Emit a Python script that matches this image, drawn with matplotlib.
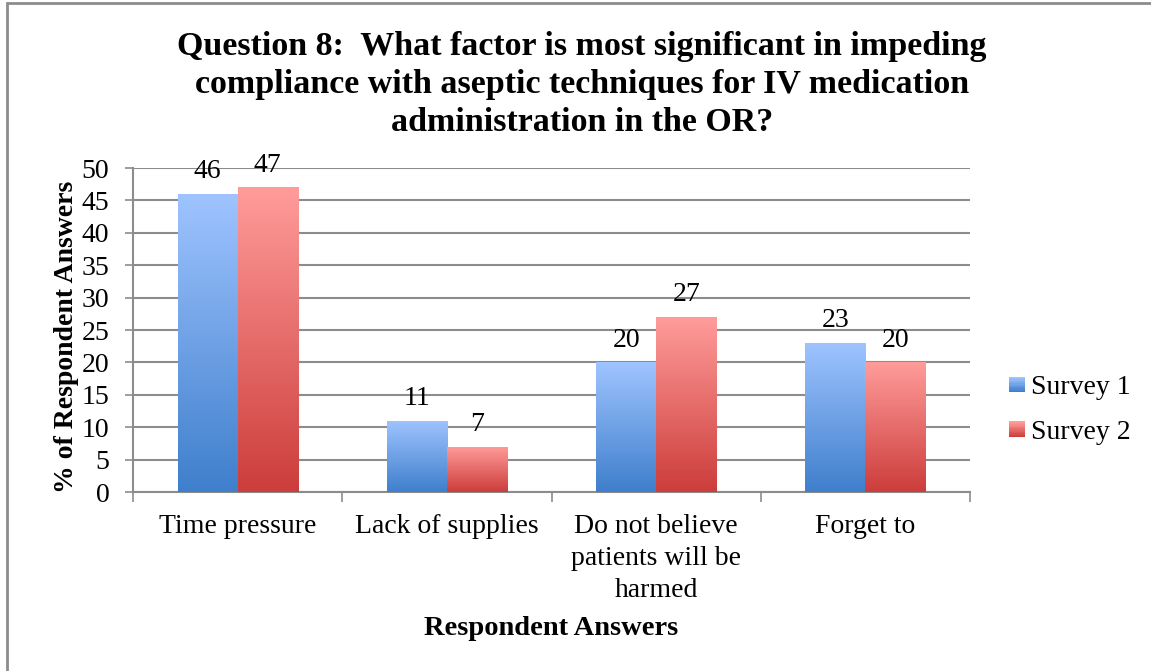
import numpy as np
import matplotlib.pyplot as plt
from matplotlib.patches import Rectangle
from matplotlib.colors import LinearSegmentedColormap
from matplotlib.legend_handler import HandlerBase

categories = ["Time pressure", "Lack of supplies",
              "Do not believe\npatients will be\nharmed", "Forget to"]
survey1 = [46, 11, 20, 23]
survey2 = [47, 7, 27, 20]
series_names = ["Survey 1", "Survey 2"]
yticks = list(range(0, 55, 5))

title = ("Question 8:  What factor is most significant in impeding\n"
         "compliance with aseptic techniques for IV medication\n"
         "administration in the OR?")

blue = LinearSegmentedColormap.from_list("b", ["#3f7fcc", "#9fc4ff"])
red = LinearSegmentedColormap.from_list("r", ["#cc3d3b", "#ff9c9a"])

plt.rcParams['font.family'] = ['Liberation Serif', 'DejaVu Serif']

fig = plt.figure(figsize=(11.51, 6.71), dpi=100)
ax = fig.add_axes([133 / 1151, 1 - 492 / 671, 837 / 1151, 324 / 671])

# outer chart border (only top and left edges visible in the original)
fig.patches.append(Rectangle((7 / 1151, -0.05), 1.1, 1 - 3.5 / 671 + 0.05,
                             transform=fig.transFigure, fill=False,
                             edgecolor="#8c8c8c", linewidth=2))

x = np.arange(len(categories))
w = 0.287
grad = np.linspace(0, 1, 256).reshape(-1, 1)

for vals, off, cmap in [(survey1, -w / 2, blue), (survey2, w / 2, red)]:
    bars = ax.bar(x + off, vals, w, color="none", zorder=3)
    for b, v in zip(bars, vals):
        x0, y0 = b.get_x(), b.get_y()
        im = ax.imshow(grad, cmap=cmap, origin="lower", aspect="auto",
                       extent=[x0, x0 + b.get_width(), y0, y0 + b.get_height()],
                       zorder=3)
        im.set_clip_path(b)
        ax.text(b.get_x() + b.get_width() / 2, v + 1.5, str(v),
                ha="center", va="bottom", fontsize=20)

ax.set_xlim(-0.5, len(categories) - 0.5)
ax.set_ylim(0, 50)
ax.set_yticks(yticks)
ax.tick_params(axis="y", labelsize=20, length=6, color="#8c8c8c", width=1.2, pad=11)
ax.set_xticks(x)
ax.set_xticklabels(categories, fontsize=20, linespacing=1.37)
ax.tick_params(axis="x", length=0, pad=16)
ax.set_xticks(np.arange(-0.5, len(categories)), minor=True)
ax.tick_params(axis="x", which="minor", length=7, color="#8c8c8c", width=1.2)
ax.grid(axis="y", color="#8c8c8c", linewidth=1.5, zorder=0)
ax.set_axisbelow(True)
for s in ["top", "right"]:
    ax.spines[s].set_visible(False)
for s in ["left", "bottom"]:
    ax.spines[s].set_color("#8c8c8c")
    ax.spines[s].set_linewidth(1.5)

ax.set_ylabel("% of Respondent Answers", fontsize=20, fontweight="bold")
ax.yaxis.set_label_coords(-0.065, 0.48)
ax.set_xlabel("Respondent Answers", fontsize=20.5, fontweight="bold", labelpad=9)
fig.text(582 / 1151, 1 - 31 / 671, title, ha="center", va="top", fontsize=24.5,
         fontweight="bold", linespacing=1.3)


class GradHandler(HandlerBase):
    def __init__(self, cmap):
        super().__init__()
        self.cmap = cmap

    def create_artists(self, legend, orig, xd, yd, width, height, fontsize, trans):
        n = 12
        s = 11
        y0 = yd + (height - s) / 2
        arts = []
        for i in range(n):
            arts.append(Rectangle((xd + width - s, y0 + s * i / n), s, s / n + 0.3,
                                  facecolor=self.cmap(i / (n - 1)), edgecolor="none",
                                  transform=trans))
        return arts


h1 = Rectangle((0, 0), 1, 1)
h2 = Rectangle((0, 0), 1, 1)
ax.legend([h1, h2], series_names, loc="center left", bbox_to_anchor=(1.017, 0.253),
          frameon=False, fontsize=20, handlelength=0.55, handletextpad=0.25,
          labelspacing=0.7,
          handler_map={h1: GradHandler(blue), h2: GradHandler(red)})

fig.savefig("out.png", dpi=100)
